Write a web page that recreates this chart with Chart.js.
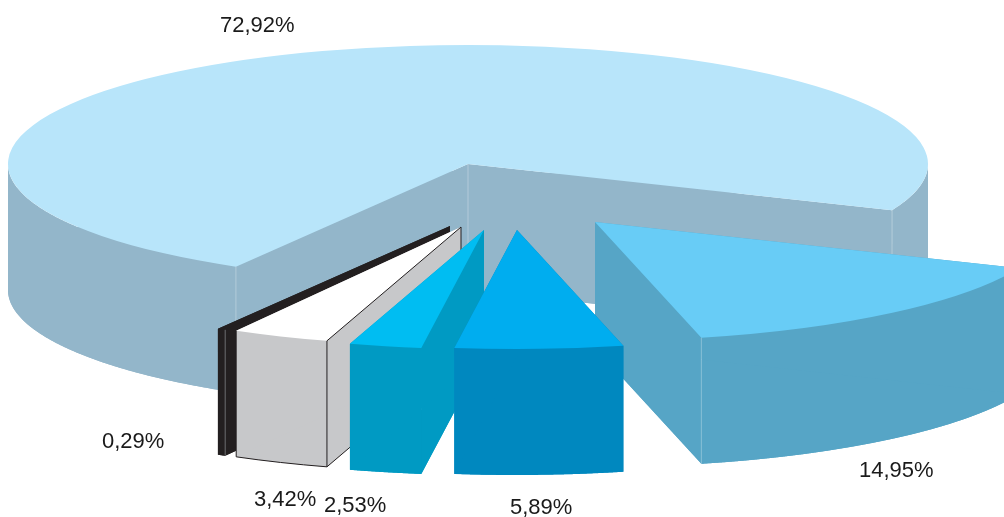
<!DOCTYPE html>
<html>
<head>
<meta charset="utf-8">
<script src="https://cdn.jsdelivr.net/npm/chart.js@4"></script>
<style>
  html, body { margin: 0; padding: 0; background: #fff; overflow: hidden; }
  canvas { display: block; }
</style>
</head>
<body>
<canvas id="pie" width="1004" height="517"></canvas>
<script>
const labels = ['72,92%', '14,95%', '5,89%', '2,53%', '3,42%', '0,29%'];
const shares = [72.92, 14.95, 5.89, 2.53, 3.42, 0.29];
const topColors = ['#B8E5FA', '#68CCF6', '#00ADEF', '#00BDF2', '#FFFFFF', '#231F20'];
const sideColors = ['#93B6CA', '#56A5C6', '#0088BF', '#009AC3', '#C7C8CA', '#231F20'];

// the look of the 3d pie: ellipse, thickness, how far each slice is pulled out
const CX = 468, CY = 164, RX = 460, RY = 119, DEPTH = 126;
const pulled = [[0, 0], [127, 58], [49, 66], [16, 66], [-7, 63], [-18, 62]];
const paintOrder = [0, 1, 5, 4, 3, 2];
const labelAt = [[220, 26], [859, 471], [510, 508], [324, 506], [254, 500], [102, 442]];

// screen position of a point on the rim of slice i, at canvas angle a
function rim(i, a) {
  return {
    x: CX + pulled[i][0] + RX * Math.cos(a),
    y: CY + pulled[i][1] + RY * Math.sin(a)
  };
}

function line(ctx, a, b) {
  ctx.beginPath();
  ctx.moveTo(a.x, a.y);
  ctx.lineTo(b.x, b.y);
  ctx.stroke();
}

function fillPoly(ctx, pts) {
  ctx.beginPath();
  pts.forEach((p, n) => n ? ctx.lineTo(p.x, p.y) : ctx.moveTo(p.x, p.y));
  ctx.closePath();
  ctx.fill();
}

function down(p) { return { x: p.x, y: p.y + DEPTH }; }

// squashes the flat pie into the ellipse and moves it to its place
function toEllipse(ctx, arc, i, dy) {
  const r = arc.outerRadius;
  ctx.translate(CX + pulled[i][0], CY + pulled[i][1] + dy);
  ctx.scale(RX / r, RY / r);
  ctx.translate(-arc.x, -arc.y);
}

// only the part of the rim that faces the viewer gets a wall
function fillWalls(ctx, i, arc) {
  let run = [];
  const flush = () => {
    if (run.length > 1) fillPoly(ctx, run.concat(run.map(down).reverse()));
    run = [];
  };
  for (let n = 0; n <= 720; n++) {
    const t = arc.startAngle + (arc.endAngle - arc.startAngle) * n / 720;
    if (Math.sin(t) >= 0) run.push(rim(i, t));
    else flush();
  }
  flush();
}

const pie3d = {
  id: 'pie3d',
  beforeDatasetsDraw(chart) {
    const ctx = chart.ctx;
    const arcs = chart.getDatasetMeta(0).data;

    paintOrder.forEach(i => {
      const el = arcs[i];
      const arc = el.getProps(['x', 'y', 'startAngle', 'endAngle', 'outerRadius']);
      const tip = { x: CX + pulled[i][0], y: CY + pulled[i][1] };
      const a = rim(i, arc.startAngle), b = rim(i, arc.endAngle);

      ctx.fillStyle = sideColors[i];

      // bottom of the slice
      ctx.save();
      toEllipse(ctx, arc, i, DEPTH);
      ctx.beginPath();
      ctx.moveTo(arc.x, arc.y);
      ctx.arc(arc.x, arc.y, arc.outerRadius, arc.startAngle, arc.endAngle);
      ctx.closePath();
      ctx.fill();
      ctx.restore();

      // outer wall, then the two cut faces
      fillWalls(ctx, i, arc);
      fillPoly(ctx, [tip, a, down(a), down(tip)]);
      fillPoly(ctx, [tip, b, down(b), down(tip)]);

      // top face
      ctx.save();
      toEllipse(ctx, arc, i, 0);
      el.draw(ctx);
      ctx.restore();

      ctx.lineWidth = 1;

      // thin pale seams on the blue slices
      ctx.strokeStyle = 'rgba(255,255,255,0.3)';
      if (i === 0) {
        line(ctx, a, down(a));
        line(ctx, b, down(b));
        line(ctx, tip, down(tip));
      } else if (i === 1) {
        line(ctx, b, down(b));
      }

      // the white slice is outlined in black
      if (i === 4) {
        ctx.strokeStyle = '#231F20';
        line(ctx, a, down(a));
        line(ctx, tip, a);
        line(ctx, tip, down(tip));
        line(ctx, down(a), down(tip));
        line(ctx, b, down(b));
        ctx.beginPath();
        ctx.ellipse(tip.x, tip.y + DEPTH, RX, RY, 0, arc.startAngle, arc.endAngle);
        ctx.stroke();
      }
      if (i === 5) {
        ctx.strokeStyle = '#6d6e70';
        line(ctx, a, down(a));
      }
    });
    return false;
  },
  afterDraw(chart) {
    const ctx = chart.ctx;
    ctx.save();
    ctx.fillStyle = '#1a1a1a';
    ctx.font = '22px "Liberation Sans", Arial, sans-serif';
    ctx.textAlign = 'left';
    ctx.textBaseline = 'middle';
    labels.forEach((t, i) => ctx.fillText(t, labelAt[i][0], labelAt[i][1]));
    ctx.restore();
  }
};

new Chart(document.getElementById('pie'), {
  type: 'pie',
  data: {
    labels,
    datasets: [{ data: shares, backgroundColor: topColors, borderWidth: 0 }]
  },
  options: {
    responsive: false,
    animation: false,
    rotation: 210.3,
    plugins: { legend: { display: false }, tooltip: { enabled: false } }
  },
  plugins: [pie3d]
});
</script>
</body>
</html>
